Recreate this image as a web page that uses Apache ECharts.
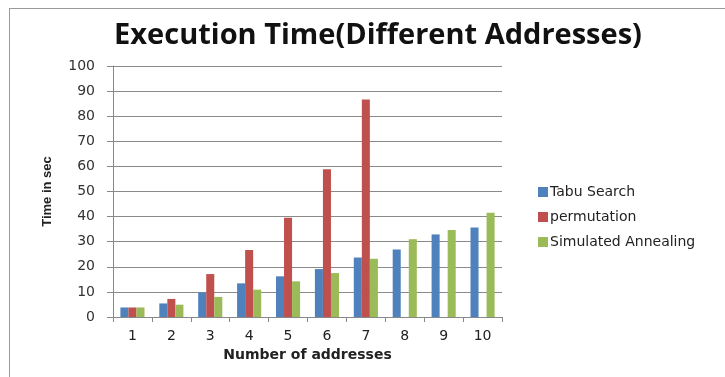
<!DOCTYPE html>
<html><head><meta charset="utf-8">
<script src="https://cdn.jsdelivr.net/npm/echarts@6/dist/echarts.min.js"></script>
<style>html,body{margin:0;padding:0;background:#fff}#c{width:725px;height:377px}
#frame{position:absolute;left:9px;top:8px;width:730px;height:380px;border:1px solid #9a9a9a;pointer-events:none}</style>
</head><body><div id="c"></div><div id="frame"></div>
<script>
const categories = ['1','2','3','4','5','6','7','8','9','10'];
const tabuSearch = [3.8, 5.4, 9.8, 13.4, 16.2, 19.1, 23.7, 26.9, 32.9, 35.7];
const permutation = [3.8, 7.2, 17.1, 26.7, 39.5, 58.9, 86.7, null, null, null];
const simulatedAnnealing = [3.8, 4.9, 8.0, 10.9, 14.2, 17.5, 23.2, 31.0, 34.7, 41.5];
const yTicks = [0,10,20,30,40,50,60,70,80,90,100];

const chart = echarts.init(document.getElementById('c'));
chart.setOption({
  animation: false,
  backgroundColor: '#fff',
  title: {text: 'Execution Time(Different Addresses)', left: 373, top: 16, textAlign: 'center',
    textStyle: {fontFamily: 'Open Sans', fontWeight: 'bold', fontSize: 29, color: '#111'}},
  legend: {orient: 'vertical', left: 533, top: 180, itemWidth: 10, itemHeight: 10, itemGap: 11, icon: 'rect',
    textStyle: {fontFamily: 'DejaVu Sans', fontSize: 14, color: '#222', padding: [0,0,0,-3]},
    data: ['Tabu Search','permutation','Simulated Annealing']},
  grid: {left: 113, right: 223, top: 66, bottom: 60, containLabel: false},
  xAxis: {type: 'category', data: categories, name: 'Number of addresses', nameLocation: 'middle', nameGap: 30,
    nameTextStyle: {fontFamily: 'DejaVu Sans', fontWeight: 'bold', fontSize: 14, color: '#222'},
    axisLine: {lineStyle: {color: '#888'}}, axisTick: {show: true, length: 5, lineStyle: {color: '#888'}},
    axisLabel: {fontFamily: 'DejaVu Sans', fontSize: 14, color: '#222', margin: 12}},
  yAxis: {type: 'value', min: 0, max: 100, interval: 10, name: 'Time in sec', nameLocation: 'middle', nameGap: 59,
    nameTextStyle: {fontFamily: 'Liberation Sans Narrow, Arial Narrow, sans-serif', fontWeight: 'bold', fontSize: 13, color: '#222'},
    axisLine: {show: true, lineStyle: {color: '#888'}}, axisTick: {show: true, length: 6, lineStyle: {color: '#888'}},
    splitLine: {lineStyle: {color: '#8a8a8a'}},
    axisLabel: {fontFamily: 'DejaVu Sans', fontSize: 14, color: '#333', margin: 18,
      formatter: v => yTicks.includes(v) ? String(v) : ''}},
  series: [
    {name: 'Tabu Search', type: 'bar', data: tabuSearch, itemStyle: {color: '#4F81BD'}, barGap: '0%', barCategoryGap: '38%'},
    {name: 'permutation', type: 'bar', data: permutation, itemStyle: {color: '#C0504D'}},
    {name: 'Simulated Annealing', type: 'bar', data: simulatedAnnealing, itemStyle: {color: '#9BBB59'}}
  ]
});
</script></body></html>
